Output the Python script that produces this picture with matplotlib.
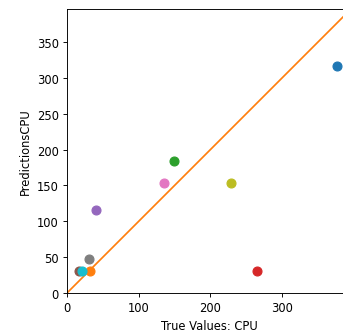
import matplotlib
matplotlib.use("Agg")
import matplotlib.pyplot as plt

# true vs predicted CPU, one point per sample (each in its own tab10 colour)
true_vals = [376, 32, 149, 265, 40, 17, 135, 30, 229, 21]
pred_vals = [316, 31, 184, 31, 116, 31, 153, 47, 153, 31]
colors = ["C0", "C1", "C2", "C3", "C4", "C5", "C6", "C7", "C8", "C9"]

DPI = 83
fig = plt.figure(figsize=(343 / DPI, 335 / DPI), dpi=DPI)
ax = fig.add_axes([67 / 343, 41 / 335, 284 / 343, 284 / 335])

for x, y, c in zip(true_vals, pred_vals, colors):
    ax.scatter(x, y, color=c, s=60, zorder=3)

lim = (0, 396)
ax.plot([-100, 500], [-100, 500], color="#ff7f0e", linewidth=1.5)
ax.set_xlim(lim)
ax.set_ylim(lim)
ax.set_xticks([0, 100, 200, 300])
ax.set_yticks([0, 50, 100, 150, 200, 250, 300, 350])
ax.set_xlabel("True Values: CPU")
ax.set_ylabel("PredictionsCPU")

fig.savefig("out.png", dpi=DPI)
